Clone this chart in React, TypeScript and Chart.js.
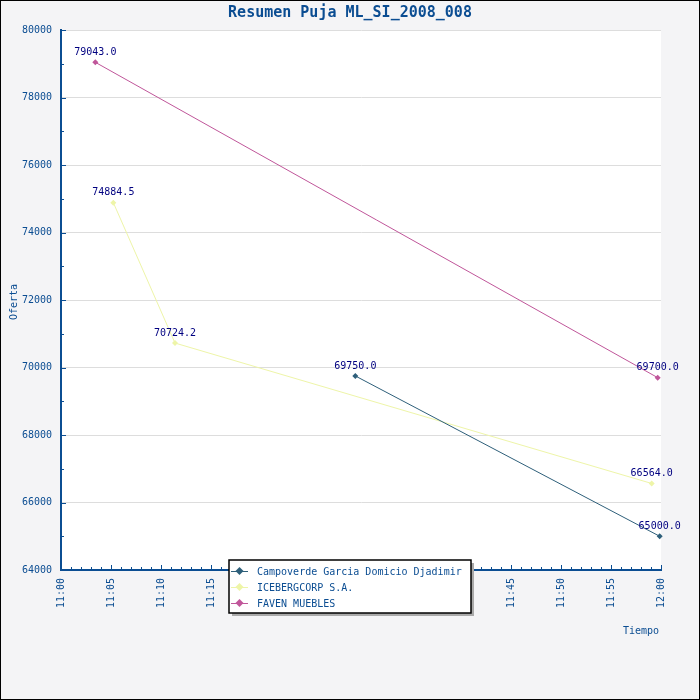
import { useEffect, useRef } from 'react';
import { Chart, registerables, Plugin } from 'chart.js';

Chart.register(...registerables);

// Datos de la puja (hora de la oferta, monto)
const seriesNames = ['Campoverde Garcia Domicio Djadimir', 'ICEBERGCORP S.A.', 'FAVEN MUEBLES'];
const campoverdeTimes = ['11:29:26', '11:59:52'];
const campoverdeValues = [69750.0, 65000.0];
const icebergTimes = ['11:05:14', '11:11:24', '11:59:04'];
const icebergValues = [74884.5, 70724.2, 66564.0];
const favenTimes = ['11:03:26', '11:59:40'];
const favenValues = [79043.0, 69700.0];
const seriesColors = ['#2e5f7a', '#eef5a8', '#c0569a'];

const xTickLabels = ['11:00', '11:05', '11:10', '11:15', '11:20', '11:25', '11:30', '11:35', '11:40', '11:45', '11:50', '11:55', '12:00'];
const yMin = 64000;
const yMax = 80000;

const BLUE = '#0b4d92';
const NAVY = '#000080';
const FONT = '"DejaVu Sans Mono", monospace';

const toMinutes = (t: string) => {
  const [h, m, s] = t.split(':').map(Number);
  return (h - 11) * 60 + m + s / 60;
};

const toPoints = (times: string[], values: number[]) =>
  times.map((t, i) => ({ x: toMinutes(t), y: values[i] }));

// fondo, titulo, ejes y leyenda dibujados a mano
const decoPlugin: Plugin<'line'> = {
  id: 'deco',
  beforeDraw(chart) {
    const { ctx, chartArea, width, height } = chart;
    ctx.save();
    ctx.fillStyle = '#f4f4f6';
    ctx.fillRect(0, 0, width, height);
    ctx.strokeStyle = '#000';
    ctx.lineWidth = 1;
    ctx.strokeRect(0.5, 0.5, width - 1, height - 1);
    ctx.fillStyle = '#fff';
    ctx.fillRect(chartArea.left, chartArea.top, chartArea.right - chartArea.left, chartArea.bottom - chartArea.top);

    ctx.fillStyle = BLUE;
    ctx.font = `bold 15px ${FONT}`;
    ctx.textAlign = 'center';
    ctx.textBaseline = 'middle';
    ctx.fillText('Resumen Puja ML_SI_2008_008', 350, 13);

    ctx.font = `10px ${FONT}`;
    ctx.save();
    ctx.translate(14, 302);
    ctx.rotate(-Math.PI / 2);
    ctx.fillText('Oferta', 0, 0);
    ctx.restore();
    ctx.textAlign = 'right';
    ctx.fillText('Tiempo', 659, 631);
    ctx.restore();
  },
  afterDraw(chart) {
    const { ctx } = chart;
    const xs = chart.scales.x;
    const ys = chart.scales.y;
    ctx.save();
    ctx.strokeStyle = BLUE;
    ctx.lineWidth = 1;
    ctx.beginPath();
    xs.ticks.forEach((t) => {
      const px = Math.round(xs.getPixelForValue(t.value)) + 0.5;
      const len = t.value % 5 === 0 ? 5 : 3;
      ctx.moveTo(px, xs.top);
      ctx.lineTo(px, xs.top - len);
    });
    ys.ticks.forEach((t) => {
      const py = Math.round(ys.getPixelForValue(t.value)) + 0.5;
      const len = t.value % 2000 === 0 ? 5 : 3;
      ctx.moveTo(ys.right, py);
      ctx.lineTo(ys.right + len, py);
    });
    ctx.stroke();

    // etiquetas de valores
    ctx.fillStyle = NAVY;
    ctx.font = `10px ${FONT}`;
    ctx.textAlign = 'center';
    ctx.textBaseline = 'bottom';
    chart.data.datasets.forEach((ds, i) => {
      const meta = chart.getDatasetMeta(i);
      meta.data.forEach((pt, j) => {
        const v = (ds.data[j] as { y: number }).y;
        ctx.fillText(v.toFixed(1), pt.x, pt.y - 5);
      });
    });

    // leyenda
    const lx = 229, ly = 560, lw = 242, lh = 53;
    ctx.fillStyle = '#aaa';
    ctx.fillRect(lx + 3, ly + 3, lw, lh);
    ctx.fillStyle = '#fff';
    ctx.fillRect(lx, ly, lw, lh);
    ctx.strokeStyle = '#000';
    ctx.lineWidth = 1.5;
    ctx.strokeRect(lx, ly, lw, lh);
    chart.data.datasets.forEach((ds, i) => {
      const cy = ly + 11 + i * 16;
      const color = ds.borderColor as string;
      ctx.strokeStyle = color;
      ctx.lineWidth = 1;
      ctx.beginPath();
      ctx.moveTo(lx + 2, cy + 0.5);
      ctx.lineTo(lx + 19, cy + 0.5);
      ctx.stroke();
      ctx.fillStyle = color;
      ctx.beginPath();
      ctx.moveTo(lx + 10.5, cy - 4);
      ctx.lineTo(lx + 14.5, cy);
      ctx.lineTo(lx + 10.5, cy + 4);
      ctx.lineTo(lx + 6.5, cy);
      ctx.closePath();
      ctx.fill();
      ctx.fillStyle = BLUE;
      ctx.font = `10px ${FONT}`;
      ctx.textAlign = 'left';
      ctx.textBaseline = 'middle';
      ctx.fillText(ds.label as string, lx + 28, cy + 1);
    });
    ctx.restore();
  },
};

const App = () => {
  const canvasRef = useRef<HTMLCanvasElement>(null);
  const chartInstance = useRef<Chart<'line'> | null>(null);

  useEffect(() => {
    document.body.style.margin = '0';
    if (!canvasRef.current) return;
    const ctx = canvasRef.current.getContext('2d');
    if (!ctx) return;

    if (chartInstance.current) chartInstance.current.destroy();

    const allPoints = [
      toPoints(campoverdeTimes, campoverdeValues),
      toPoints(icebergTimes, icebergValues),
      toPoints(favenTimes, favenValues),
    ];

    chartInstance.current = new Chart(ctx, {
      type: 'line',
      data: {
        datasets: allPoints.map((pts, i) => ({
          label: seriesNames[i],
          data: pts,
          borderColor: seriesColors[i],
          backgroundColor: seriesColors[i],
          borderWidth: 1,
          pointStyle: 'rectRot',
          pointRadius: 3,
          pointBorderWidth: 0,
          tension: 0,
          clip: 8,
        })),
      },
      options: {
        animation: false,
        responsive: false,
        devicePixelRatio: 1,
        layout: { padding: { top: 30, left: 0, right: 39, bottom: 80 } },
        plugins: {
          legend: { display: false },
          title: { display: false },
          tooltip: { enabled: false },
        },
        scales: {
          x: {
            type: 'linear',
            min: 0,
            max: 60,
            afterFit: (scale) => { scale.height = 50; },
            border: { color: BLUE, width: 2 },
            grid: { drawOnChartArea: false, drawTicks: false },
            ticks: {
              stepSize: 1,
              autoSkip: false,
              minRotation: 90,
              maxRotation: 90,
              padding: 8,
              color: BLUE,
              font: { family: FONT, size: 10 },
              callback: (v) => (Number(v) % 5 === 0 ? xTickLabels[Number(v) / 5] : ''),
            },
          },
          y: {
            min: yMin,
            max: yMax,
            afterFit: (scale) => { scale.width = 61; },
            border: { color: BLUE, width: 2 },
            grid: {
              drawTicks: false,
              color: (c) => (c.tick && c.tick.value % 2000 === 0 ? '#dddddd' : 'rgba(0,0,0,0)'),
            },
            ticks: {
              stepSize: 1000,
              padding: 9,
              color: BLUE,
              font: { family: FONT, size: 10 },
              callback: (v) => (Number(v) % 2000 === 0 ? String(v) : ''),
            },
          },
        },
      },
      plugins: [decoPlugin],
    });

    return () => {
      if (chartInstance.current) {
        chartInstance.current.destroy();
        chartInstance.current = null;
      }
    };
  }, []);

  return <canvas ref={canvasRef} width={700} height={700} style={{ display: 'block' }} />;
};

export default App;
